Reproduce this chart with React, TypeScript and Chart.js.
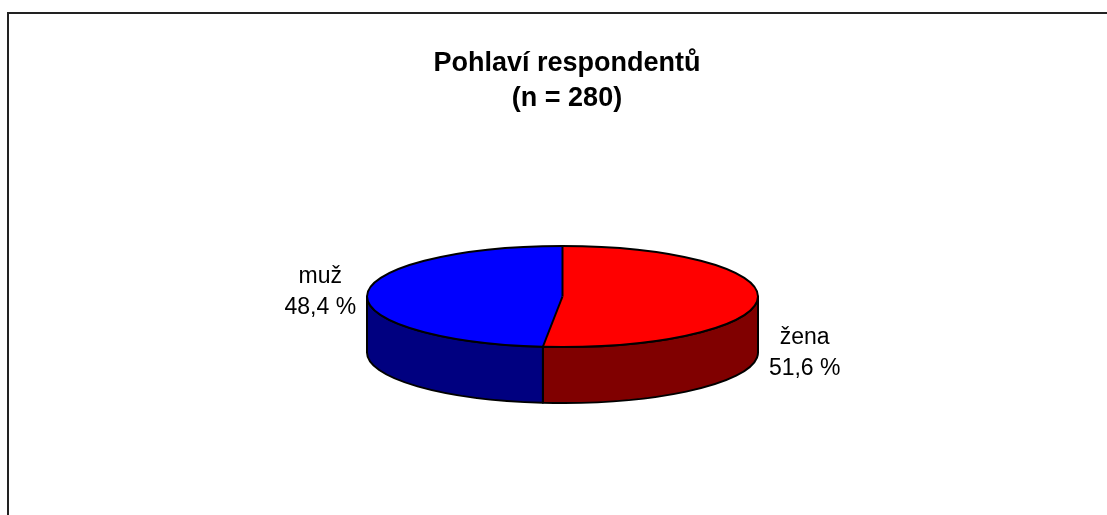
import React, { useEffect, useRef } from "react";
import { Chart, registerables } from "chart.js";

Chart.register(...registerables);

// ---- data ----
const categories = ["žena", "muž"];
const percentages = [51.6, 48.4];
const topColors = ["#FF0000", "#0000FF"];
const sideColors = ["#800000", "#000080"];
const titleLines = ["Pohlaví respondentů", "(n = 280)"];

const FONT = "'Liberation Sans', Arial, Helvetica, sans-serif";

// ---- 3D pie geometry (layout, not data) ----
const CX = 562.5;
const CY = 296.5;
const RX = 195.5;
const RY = 50.5;
const DEPTH = 56;
const LABEL_GAP = 47;
const LABEL_DY = -2;
const LABEL_LINE = 31;

const fmt = (v: number) => v.toFixed(1).replace(".", ",") + " %";

const pie3D = {
  id: "pie3D",
  beforeDatasetsDraw(chart: any) {
    const meta = chart.getDatasetMeta(0);
    const arcs = meta.data;
    if (!arcs.length) return;
    const ctx = chart.ctx as CanvasRenderingContext2D;
    // side walls (front half only)
    ctx.save();
    ctx.lineWidth = 2;
    ctx.strokeStyle = "#000";
    ctx.lineJoin = "round";
    arcs.forEach((arc: any, i: number) => {
      const { startAngle, endAngle } = arc.getProps(["startAngle", "endAngle"], true);
      for (let k = -1; k <= 1; k++) {
        const lo = 2 * Math.PI * k;
        const hi = lo + Math.PI;
        const a = Math.max(startAngle, lo);
        const b = Math.min(endAngle, hi);
        if (b <= a) continue;
        ctx.beginPath();
        ctx.ellipse(CX, CY, RX, RY, 0, a, b, false);
        ctx.lineTo(CX + RX * Math.cos(b), CY + DEPTH + RY * Math.sin(b));
        ctx.ellipse(CX, CY + DEPTH, RX, RY, 0, b, a, true);
        ctx.closePath();
        ctx.fillStyle = sideColors[i];
        ctx.fill();
        ctx.stroke();
      }
    });
    ctx.restore();
    // flatten the library's circular pie into an ellipse
    const { x, y, outerRadius } = arcs[0].getProps(["x", "y", "outerRadius"], true);
    ctx.save();
    ctx.translate(CX, CY);
    ctx.scale(RX / outerRadius, RY / outerRadius);
    ctx.translate(-x, -y);
  },
  afterDatasetsDraw(chart: any) {
    const meta = chart.getDatasetMeta(0);
    const arcs = meta.data;
    if (!arcs.length) return;
    const ctx = chart.ctx as CanvasRenderingContext2D;
    ctx.restore();
    ctx.save();
    ctx.lineWidth = 2;
    ctx.strokeStyle = "#000";
    ctx.lineJoin = "round";
    ctx.beginPath();
    ctx.ellipse(CX, CY, RX, RY, 0, 0, Math.PI * 2);
    ctx.stroke();
    arcs.forEach((arc: any) => {
      const { startAngle } = arc.getProps(["startAngle"], true);
      ctx.beginPath();
      ctx.moveTo(CX, CY);
      ctx.lineTo(CX + RX * Math.cos(startAngle), CY + RY * Math.sin(startAngle));
      ctx.stroke();
    });
    ctx.restore();
  },
  afterDraw(chart: any) {
    const meta = chart.getDatasetMeta(0);
    const arcs = meta.data;
    const ctx = chart.ctx as CanvasRenderingContext2D;
    ctx.save();
    ctx.font = `23px ${FONT}`;
    ctx.fillStyle = "#000";
    ctx.textAlign = "center";
    ctx.textBaseline = "middle";
    arcs.forEach((arc: any, i: number) => {
      const { startAngle, endAngle } = arc.getProps(["startAngle", "endAngle"], true);
      const mid = (startAngle + endAngle) / 2;
      const lx = CX + Math.cos(mid) * (RX + LABEL_GAP);
      const ly = CY + Math.sin(mid) * RY + (Math.cos(mid) > 0 ? DEPTH : 0) + LABEL_DY;
      ctx.fillText(categories[i], lx, ly - LABEL_LINE / 2);
      ctx.fillText(fmt(percentages[i]), lx, ly + LABEL_LINE / 2);
    });
    ctx.restore();
  },
};

export default function App() {
  const ref = useRef<HTMLCanvasElement | null>(null);
  useEffect(() => {
    if (!ref.current) return;
    const chart = new Chart(ref.current, {
      type: "pie",
      data: {
        labels: categories,
        datasets: [
          {
            data: percentages,
            backgroundColor: topColors,
            borderWidth: 0,
            hoverOffset: 0,
            clip: false as any,
          },
        ],
      },
      options: {
        animation: false,
        responsive: true,
        maintainAspectRatio: false,
        events: [],
        layout: { padding: { left: 27, top: 0, right: 0, bottom: 0 } },
        plugins: {
          legend: { display: false },
          tooltip: { enabled: false },
          title: {
            display: true,
            text: titleLines,
            color: "#000",
            font: { family: FONT, size: 27, weight: "bold", lineHeight: 1.3 },
            padding: { top: 46, bottom: 10 },
          },
        },
      },
      plugins: [pie3D],
    });
    return () => chart.destroy();
  }, []);
  return (
    <div
      style={{
        position: "absolute",
        left: 0,
        top: 0,
        width: 1107,
        height: 515,
        background: "#fff",
        overflow: "hidden",
      }}
    >
      <div
        style={{
          position: "absolute",
          left: 7,
          top: 12,
          width: 1200,
          height: 600,
          borderLeft: "2px solid #222",
          borderTop: "2px solid #222",
        }}
      />
      <canvas ref={ref} style={{ position: "absolute", left: 0, top: 0 }} />
    </div>
  );
}
